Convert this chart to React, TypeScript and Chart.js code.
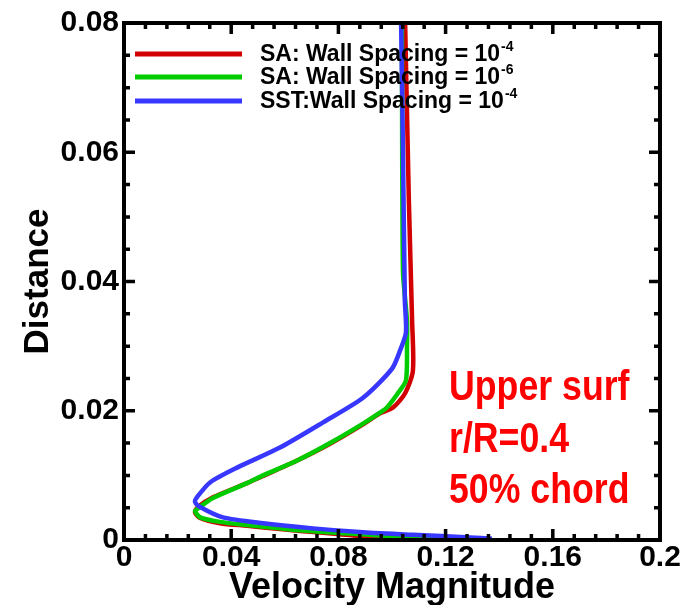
import React, { useEffect, useRef } from "react";
import { Chart, registerables } from "chart.js";

Chart.register(...registerables);

// ---------------- data ----------------
const saWall4Velocity = [
  0.1049, 0.1063, 0.1075, 0.1078, 0.1049, 0.1004, 0.0955, 0.0892, 0.0769, 0.0646, 0.0519, 0.0459,
  0.0332, 0.0276, 0.0265, 0.0284, 0.0358, 0.0459, 0.0582, 0.0657, 0.0806, 0.0907, 0.1179, 0.1366,
];
const saWall4Distance = [
  0.08, 0.0524, 0.0339, 0.0262, 0.0227, 0.0205, 0.0196, 0.0179, 0.0149, 0.0123, 0.0099, 0.0088,
  0.0066, 0.0051, 0.0043, 0.0034, 0.0026, 0.0022, 0.0017, 0.0014, 0.0009, 0.0005, 0.0003, 0.0002,
];

const saWall6Velocity = [
  0.1037, 0.1041, 0.1056, 0.1056, 0.1052, 0.1022, 0.0981, 0.0955, 0.0892, 0.0769, 0.0646, 0.0519,
  0.0459, 0.0332, 0.0276, 0.0265, 0.0284, 0.0358, 0.0459, 0.0582, 0.0657, 0.0806, 0.0993, 0.1179,
  0.1366,
];
const saWall6Distance = [
  0.08, 0.0416, 0.0339, 0.0301, 0.0247, 0.0227, 0.0205, 0.0197, 0.018, 0.015, 0.0123, 0.01,
  0.0088, 0.0065, 0.0049, 0.0045, 0.0035, 0.0028, 0.0023, 0.0018, 0.0015, 0.0011, 0.0006, 0.0003,
  0.0002,
];

const sstWall4Velocity = [
  0.1034, 0.1041, 0.1048, 0.1052, 0.103, 0.1, 0.0892, 0.0743, 0.0582, 0.0422, 0.0321, 0.0272,
  0.0265, 0.0284, 0.0369, 0.0519, 0.0705, 0.0892, 0.1078, 0.1291, 0.1373,
];
const sstWall4Distance = [
  0.08, 0.0601, 0.037, 0.0321, 0.0293, 0.0265, 0.022, 0.0182, 0.0143, 0.0112, 0.0089, 0.0066,
  0.0059, 0.0051, 0.0035, 0.0026, 0.0018, 0.0012, 0.0008, 0.0004, 0.0002,
];

const seriesLabels = ["SA: Wall Spacing = 10", "SA: Wall Spacing = 10", "SST:Wall Spacing = 10"];
const seriesExponents = ["-4", "-6", "-4"];
const seriesColors = ["#d20000", "#00cc00", "#3737ff"];

const xTickValues = [0, 0.04, 0.08, 0.12, 0.16, 0.2];
const xTickLabels = ["0", "0.04", "0.08", "0.12", "0.16", "0.2"];
const yTickValues = [0, 0.02, 0.04, 0.06, 0.08];
const yTickLabels = ["0", "0.02", "0.04", "0.06", "0.08"];
const xMinorStep = 0.008;
const yMinorStep = 0.005;

const xTitle = "Velocity Magnitude";
const yTitle = "Distance";
const annotationLines = ["Upper surf", "r/R=0.4", "50% chord"];

const FONT = "'Liberation Sans', Arial, Helvetica, sans-serif";

function zip(xs: number[], ys: number[]) {
  return xs.map((x, i) => ({ x, y: ys[i] }));
}

const frameTicksPlugin = {
  id: "frameTicks",
  afterDatasetsDraw(chart: any) {
    const { ctx, chartArea } = chart;
    const { left, right, top, bottom } = chartArea;
    const xs = chart.scales.x;
    const ys = chart.scales.y;
    ctx.save();
    ctx.strokeStyle = "#000";
    ctx.lineCap = "butt";
    ctx.lineWidth = 3.5;
    const major = 11;
    const minor = 6;
    const drawX = (v: number, len: number) => {
      const px = xs.getPixelForValue(v);
      ctx.beginPath();
      ctx.moveTo(px, bottom);
      ctx.lineTo(px, bottom - len);
      ctx.moveTo(px, top);
      ctx.lineTo(px, top + len);
      ctx.stroke();
    };
    const drawY = (v: number, len: number) => {
      const py = ys.getPixelForValue(v);
      ctx.beginPath();
      ctx.moveTo(left, py);
      ctx.lineTo(left + len, py);
      ctx.moveTo(right, py);
      ctx.lineTo(right - len, py);
      ctx.stroke();
    };
    const nx = Math.round((xs.max - xs.min) / xMinorStep);
    for (let i = 0; i <= nx; i++) {
      const v = xs.min + i * xMinorStep;
      const isMajor = xTickValues.some((t) => Math.abs(t - v) < 1e-9);
      drawX(v, isMajor ? major : minor);
    }
    const ny = Math.round((ys.max - ys.min) / yMinorStep);
    for (let i = 0; i <= ny; i++) {
      const v = ys.min + i * yMinorStep;
      const isMajor = yTickValues.some((t) => Math.abs(t - v) < 1e-9);
      drawY(v, isMajor ? major : minor);
    }
    ctx.lineWidth = 4;
    ctx.strokeRect(left, top, right - left, bottom - top);
    ctx.restore();
  },
  afterDraw(chart: any) {
    const { ctx, chartArea } = chart;
    const { left, top } = chartArea;
    ctx.save();
    // legend
    const rowY = [31, 54, 78];
    for (let i = 0; i < seriesLabels.length; i++) {
      const y = top + rowY[i];
      ctx.strokeStyle = seriesColors[i];
      ctx.lineWidth = 5;
      ctx.beginPath();
      ctx.moveTo(left + 11, y);
      ctx.lineTo(left + 118, y);
      ctx.stroke();
      ctx.fillStyle = "#000";
      ctx.font = `bold 23px ${FONT}`;
      ctx.textBaseline = "middle";
      ctx.textAlign = "left";
      const tx = left + 136;
      ctx.fillText(seriesLabels[i], tx, y + 1);
      const w = ctx.measureText(seriesLabels[i]).width;
      ctx.font = `bold 14px ${FONT}`;
      ctx.fillText(seriesExponents[i], tx + w + 1, y - 7);
    }
    // annotation
    ctx.fillStyle = "#ff0000";
    ctx.font = `bold 42px ${FONT}`;
    ctx.textBaseline = "alphabetic";
    const baseY = [400, 452, 503];
    for (let i = 0; i < annotationLines.length; i++) {
      ctx.save();
      ctx.translate(449, baseY[i]);
      ctx.scale(0.85, 1);
      ctx.fillText(annotationLines[i], 0, 0);
      ctx.restore();
    }
    ctx.restore();
  },
};

export default function App() {
  const canvasRef = useRef<HTMLCanvasElement | null>(null);

  useEffect(() => {
    document.body.style.margin = "0";
    const canvas = canvasRef.current;
    if (!canvas) return;
    const mk = (label: string, xs: number[], ys: number[], color: string, order: number) => ({
      label,
      data: zip(xs, ys),
      borderColor: color,
      backgroundColor: color,
      borderWidth: 4.5,
      pointRadius: 0,
      showLine: true,
      tension: 0.25,
      fill: false,
      order,
    });
    const chart = new Chart(canvas, {
      type: "scatter",
      data: {
        datasets: [
          mk(seriesLabels[0] + seriesExponents[0], saWall4Velocity, saWall4Distance, seriesColors[0], 3),
          mk(seriesLabels[1] + seriesExponents[1], saWall6Velocity, saWall6Distance, seriesColors[1], 2),
          mk(seriesLabels[2] + seriesExponents[2], sstWall4Velocity, sstWall4Distance, seriesColors[2], 1),
        ],
      },
      options: {
        animation: false,
        responsive: false,
        maintainAspectRatio: false,
        layout: { padding: { left: 0, top: 21, right: 32, bottom: 0 } },
        plugins: {
          legend: { display: false },
          tooltip: { enabled: false },
        },
        scales: {
          x: {
            type: "linear",
            min: 0,
            max: 0.2,
            grid: { display: false, drawTicks: false },
            border: { display: false },
            afterBuildTicks: (scale: any) => {
              scale.ticks = xTickValues.map((v) => ({ value: v }));
            },
            afterFit: (scale: any) => {
              scale.height = 65;
            },
            ticks: {
              autoSkip: false,
              maxRotation: 0,
              padding: 0,
              color: "#000",
              font: { family: FONT, size: 30, weight: "bold" },
              callback: (v: any) => {
                const i = xTickValues.findIndex((t) => Math.abs(t - v) < 1e-9);
                return i >= 0 ? xTickLabels[i] : "";
              },
            },
            title: {
              display: true,
              text: xTitle,
              color: "#000",
              font: { family: FONT, size: 36, weight: "bold", lineHeight: 1 },
              padding: { top: 0, bottom: -1 },
            },
          },
          y: {
            type: "linear",
            min: 0,
            max: 0.08,
            grid: { display: false, drawTicks: false },
            border: { display: false },
            afterBuildTicks: (scale: any) => {
              scale.ticks = yTickValues.map((v) => ({ value: v }));
            },
            afterFit: (scale: any) => {
              scale.width = 124;
            },
            ticks: {
              autoSkip: false,
              padding: 5,
              color: "#000",
              font: { family: FONT, size: 30, weight: "bold" },
              callback: (v: any) => {
                const i = yTickValues.findIndex((t) => Math.abs(t - v) < 1e-9);
                return i >= 0 ? yTickLabels[i] : "";
              },
            },
            title: {
              display: true,
              text: yTitle,
              color: "#000",
              font: { family: FONT, size: 35, weight: "bold", lineHeight: 1 },
              padding: { top: 21, bottom: 0 },
            },
          },
        },
      },
      plugins: [frameTicksPlugin],
    } as any);
    return () => chart.destroy();
  }, []);

  return (
    <div style={{ position: "absolute", left: 0, top: 0, width: 692, height: 605, background: "#fff" }}>
      <canvas ref={canvasRef} width={692} height={605} style={{ display: "block", width: 692, height: 605 }} />
    </div>
  );
}
